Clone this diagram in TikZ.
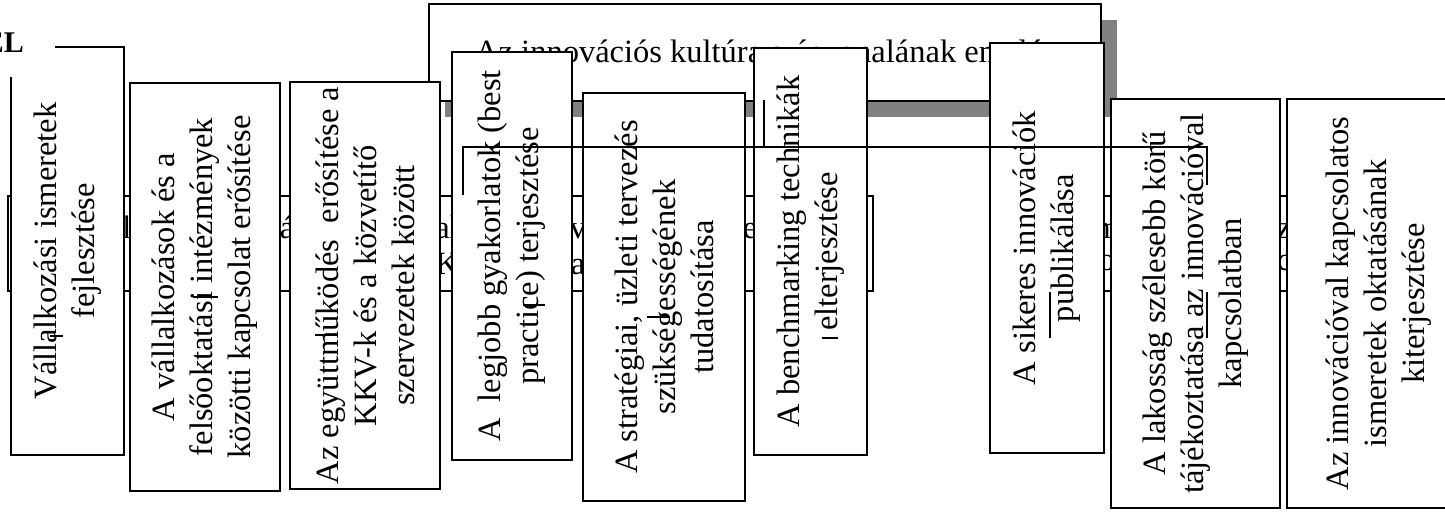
\documentclass[tikz,border=0pt]{standalone}
\usepackage{fontspec}
\setmainfont{Liberation Serif}
\usetikzlibrary{shadows}

\begin{document}
\begin{tikzpicture}[x=1pt, y=-1pt,
    every node/.style={font=\fontsize{32.5}{38}\selectfont},
    aim/.style={draw, fill=white, line width=1.6pt, rotate=90, align=center, inner sep=0pt},
    band/.style={draw, line width=1.6pt, inner sep=0pt, anchor=north west},
    bandtext/.style={anchor=base, inner sep=0pt},
    stray/.style={line width=1.6pt}]
    \useasboundingbox (0,0) rectangle (1445,513);
    \clip (0,0) rectangle (1445,513);

    % half hidden bands
    \node[band, minimum width=865, minimum height=95] (band1) at (7,195) {};
    \node[band, minimum width=470, minimum height=95] (band2) at (995,195) {};
    \node[bandtext] (t1) at (127,238) {l};
    \node[bandtext] (t2) at (287,238) {á};
    \node[bandtext] (t3) at (447,238) {al};
    \node[bandtext] (t4) at (447,274) {K};
    \node[bandtext] (t5) at (578,238) {v};
    \node[bandtext] (t6) at (578,274) {a};
    \node[bandtext] (t7) at (750,238) {e};
    \node[bandtext] (t8) at (1107,238) {m};
    \node[bandtext] (t9) at (1107,270) {o};
    \node[bandtext] (t10) at (1284,238) {z};
    \node[bandtext] (t11) at (1284,270) {c};

    % theme box
    \node[draw, fill=white, line width=1.6pt, inner sep=0pt, anchor=north west,
        minimum width=672, minimum height=97,
        drop shadow={shadow xshift=16pt, shadow yshift=-16pt, fill=black!50, opacity=1}]
        (theme) at (428,3) {};
    \node[anchor=base west, inner sep=0pt] (themetext) at (475,63)
        {Az innovációs kultúra színvonalának emelése};

    % aims
    \node[aim, minimum width=408, minimum height=113] (a1) at (67.5,251)
        {Vállalkozási ismeretek\\fejlesztése};
    \node[fill=white, inner sep=0pt, minimum width=60, minimum height=80, anchor=south east]
        (goalpatch) at (55,77) {};
    \node[anchor=base east, inner sep=0pt, font=\fontsize{30}{34}\selectfont\bfseries]
        (goal) at (24,53) {EL};
    \node[aim, minimum width=408, minimum height=150] (a2) at (205,287)
        {A vállalkozások és a\\felsőoktatási intézmények\\közötti kapcsolat erősítése};
    \node[aim, minimum width=407, minimum height=150] (a3) at (365,285.5)
        {Az együttműködés\ \ erősítése a\\KKV-k és a közvetítő\\szervezetek között};
    \node[aim, minimum width=408, minimum height=120] (a4) at (512,256)
        {A\ \ legjobb gyakorlatok (best\\practice) terjesztése};
    \node[aim, minimum width=408, minimum height=162] (a5) at (664,297)
        {A stratégiai, üzleti tervezés\\szükségességének\\tudatosítása};
    \node[aim, minimum width=407, minimum height=113] (a6) at (810.5,251.5)
        {A benchmarking technikák\\elterjesztése};
    \node[aim, minimum width=410, minimum height=114] (a7) at (1047,248)
        {A sikeres innovációk\\publikálása};
    \node[aim, minimum width=409, minimum height=169] (a8) at (1195.5,303.5)
        {A lakosság szélesebb körű\\tájékoztatása az innovációval\\kapcsolatban};
    \node[aim, minimum width=409, minimum height=183] (a9) at (1378.5,303.5)
        {Az innovációval kapcsolatos\\ismeretek oktatásának\\kiterjesztése};

    % stray lines on top
    \draw[stray] (463,195) -- (463,147) -- (1207,147) -- (1207,185);
    \draw[stray] (764,100) -- (764,147);
    \draw[stray] (50,336) -- (63,336);
    \draw[stray] (193,297) -- (218,297);
    \draw[stray] (315,335) -- (338,335);
    \draw[stray] (523,305) -- (545,305);
    \draw[stray] (647,317) -- (670,317);
    \draw[stray] (822,338) -- (838,338);
    \draw[stray] (1050,292) -- (1050,338);
    \draw[stray] (1207,292) -- (1207,338);
\end{tikzpicture}
\end{document}
